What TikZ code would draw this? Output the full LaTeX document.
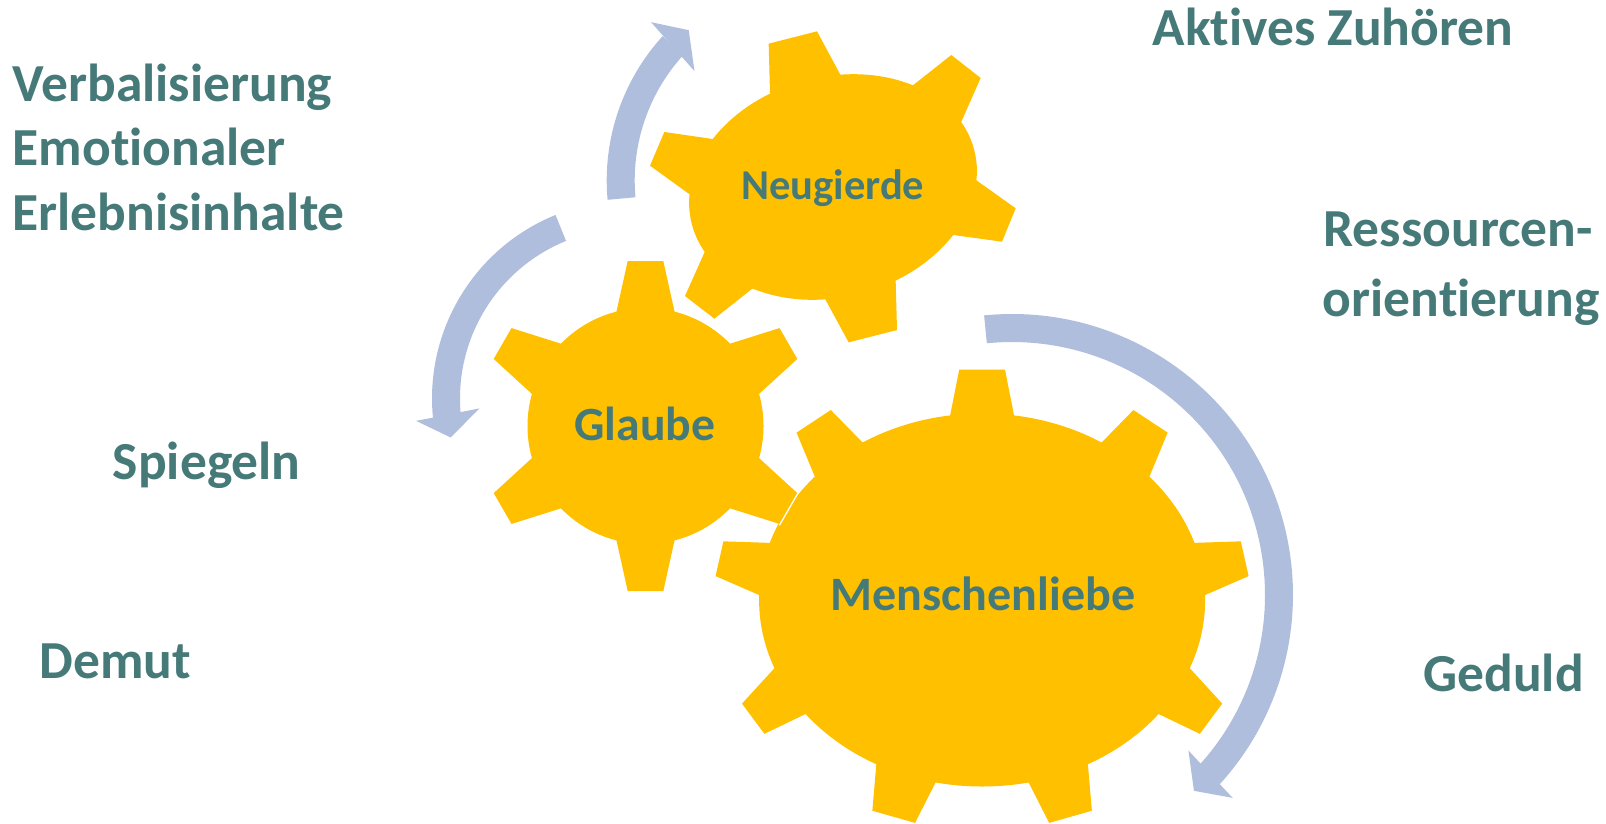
\documentclass[tikz,border=0pt]{standalone}
\usepackage{fontspec}
\setmainfont{Carlito}[Ligatures={NoCommon}]
\definecolor{gearcol}{HTML}{FFC000}
\definecolor{arrcol}{HTML}{B0BEDE}
\definecolor{txtcol}{HTML}{467A79}
\begin{document}
\begin{tikzpicture}[x=1pt,y=1pt,
  lbl/.style={text=txtcol, font=\bfseries\fontsize{53.5}{64}\selectfont, inner sep=0pt, anchor=base west},
  glbl/.style={text=txtcol, inner sep=0pt, anchor=base},
  gearfill/.style={fill=gearcol},
  arrfill/.style={fill=arrcol}]
\useasboundingbox (0,0) rectangle (1606,-823);
\fill[white] (0,0) rectangle (1606,-823);

\coordinate (N) at (833,-187);
\coordinate (G) at (645.5,-426);
\coordinate (M) at (982.1,-600);
\coordinate (A1) at (820.7,-180.4);
\coordinate (A2) at (630,-398.4);
\coordinate (A3) at (1012,-595);

% circular arrows
\path[arrfill] ([shift={(A1)}]185.2:214) arc[start angle=185.2, end angle=137.6, radius=214]
  -- ([shift={(A1)}]137.6:186) arc[start angle=137.6, end angle=185.2, radius=186] -- cycle;
\path[arrfill] ([shift={(A1)}]137:232) -- ([shift={(A1)}]131.3:200) -- ([shift={(A1)}]139.1:167) -- cycle;

\path[arrfill] ([shift={(A2)}]112.1:198) arc[start angle=112.1, end angle=185.6, radius=198]
  -- ([shift={(A2)}]185.6:170) arc[start angle=185.6, end angle=112.1, radius=170] -- cycle;
\path[arrfill] ([shift={(A2)}]186:215) -- ([shift={(A2)}]192.3:183.5) -- ([shift={(A2)}]183.8:151) -- cycle;

\path[arrfill] ([shift={(A3)}]95.7:281) arc[start angle=95.7, end angle=-42.3, radius=281]
  -- ([shift={(A3)}]-42.3:253) arc[start angle=-42.3, end angle=95.7, radius=253] -- cycle;
\path[arrfill] ([shift={(A3)}]-41.4:235.2) -- ([shift={(A3)}]-47.1:267.3) -- ([shift={(A3)}]-42.6:299.7) -- cycle;

% Menschenliebe gear (tip midpoint x/y, outward direction, tip half width, base half width)
\path[gearfill] (M) ellipse [x radius=223, y radius=186.5];
\foreach \tx/\ty/\ph/\tw/\bw in {982.1/369.7/90/22.9/34.0,
    1150.5/421.3/56.6/20.5/31.3, 813.7/421.3/123.4/20.5/31.3,
    1244.7/558.7/12.7/17.8/28.5, 719.5/558.7/167.3/17.8/28.5,
    1211/718.7/-36.6/18.8/29.6, 753.2/718.7/216.6/18.8/29.6,
    1070.5/816.8/-74.1/22.2/33.1, 893.7/816.8/254.1/22.2/33.1}
  \path[gearfill,shift={(\tx,-\ty)},rotate=\ph] (0,-\tw) -- (0,\tw) -- (-56,\bw) -- (-56,-\bw) -- cycle;

% Glaube gear
\path[gearfill] (G) circle[radius=118];
\foreach \a in {30,90,150,210,270,330}
  \path[gearfill,shift={(G)},rotate=\a] (100,-32.2) -- (165,-17.8) -- (165,17.8) -- (100,32.2) -- cycle;
\draw[white,line width=1.3pt,shift={(G)},rotate=-30] (165.6,-19) -- (165.6,19);

% Neugierde gear
\path[gearfill,shift={(N)},rotate=15] (0,0) ellipse [x radius=146, y radius=110];
\path[gearfill] (770.33,-105.75) -- (768.67,-43.67) -- (817,-31.33) -- (845.75,-84.67) -- cycle;
\path[gearfill] (903.83,-92.5) -- (951.33,-55) -- (980.67,-78) -- (956.08,-133.42) -- cycle;
\path[gearfill] (966.08,-172.92) -- (1015.67,-208.33) -- (1002,-241.67) -- (941.17,-233.33) -- cycle;
\path[gearfill] (895.33,-268.75) -- (897,-330) -- (848.67,-342.33) -- (819.92,-289.42) -- cycle;
\path[gearfill] (761.83,-281.17) -- (714.33,-318.67) -- (685,-296) -- (709.58,-241) -- cycle;
\path[gearfill] (699.58,-201.5) -- (650,-165.67) -- (664.33,-132) -- (724.75,-140.75) -- cycle;

% gear labels
\node[glbl, font=\bfseries\fontsize{42.5}{51}\selectfont] (neu) at (832.8,-199) {Neugierde};
\node[glbl, font=\bfseries\fontsize{47.7}{57}\selectfont] (gla) at (645,-440) {Glaube};
\node[glbl, font=\bfseries\fontsize{48}{57}\selectfont] (men) at (982.9,-610.7) {Menschenliebe};

% outer labels
\node[lbl] (akt) at (1152.7,-45.7) {Aktives Zuhören};
\node[lbl] (verb) at (12.5,-101.7) {Verbalisierung};
\node[lbl] (emo) at (12.5,-165.7) {Emotionaler};
\node[lbl] (erl) at (12.5,-230) {Erlebnisinhalte};
\node[lbl] (res) at (1323.3,-246.7) {Ressourcen-};
\node[lbl] (ori) at (1322.7,-316) {orientierung};
\node[lbl] (spi) at (112.7,-479.3) {Spiegeln};
\node[lbl] (dem) at (39.3,-678.3) {Demut};
\node[lbl] (ged) at (1423.3,-691.7) {Geduld};
\end{tikzpicture}
\end{document}
